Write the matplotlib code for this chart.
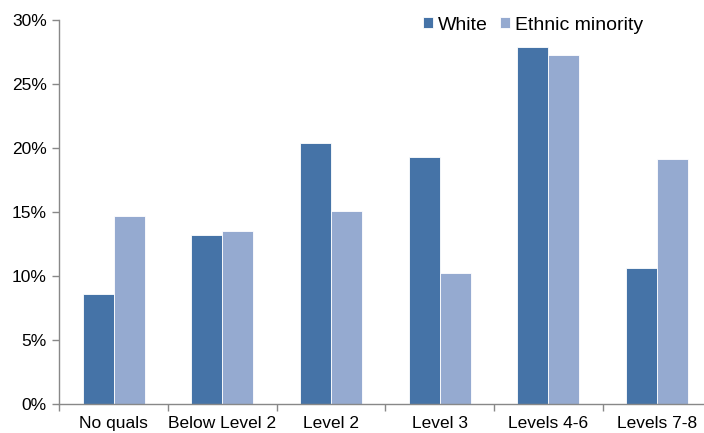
import matplotlib
matplotlib.use("Agg")
import matplotlib.pyplot as plt
import numpy as np
from matplotlib.ticker import FuncFormatter, FixedLocator

categories = ["No quals", "Below Level 2", "Level 2", "Level 3", "Levels 4-6", "Levels 7-8"]
white = [8.6, 13.2, 20.4, 19.3, 27.9, 10.6]
ethnic_minority = [14.7, 13.5, 15.1, 10.2, 27.3, 19.1]
series_names = ["White", "Ethnic minority"]
colors = ["#4573A7", "#95AAD0"]

plt.rcParams["font.family"] = ["Liberation Sans", "DejaVu Sans"]

fig = plt.figure(figsize=(7.04, 4.33), dpi=100)
ax = fig.add_axes([59.3 / 704, 1 - 403.7 / 433, (711.5 - 59.3) / 704, (403.7 - 20) / 433])

x = np.arange(len(categories))
w = 0.285
ax.bar(x - w / 2, white, w, color=colors[0], edgecolor="white", linewidth=0.6, label=series_names[0])
ax.bar(x + w / 2, ethnic_minority, w, color=colors[1], edgecolor="white", linewidth=0.6, label=series_names[1])

ax.set_xlim(-0.5, len(categories) - 0.5)
ax.set_ylim(0, 30)
ax.set_yticks(np.arange(0, 31, 5))
ax.yaxis.set_major_formatter(FuncFormatter(lambda v, p: f"{v:.0f}%"))

ax.set_xticks(x)
ax.set_xticklabels(categories)
ax.xaxis.set_minor_locator(FixedLocator(np.arange(-0.5, len(categories), 1.0)))
ax.tick_params(axis="x", which="major", length=0, pad=9, labelsize=12.5, colors="black")
ax.tick_params(axis="x", which="minor", length=5, color="#888888", width=1)
ax.tick_params(axis="y", length=5, color="#888888", width=1, labelsize=12.5, pad=4)

for s in ["top", "right"]:
    ax.spines[s].set_visible(False)
for s in ["left", "bottom"]:
    ax.spines[s].set_color("#888888")
    ax.spines[s].set_linewidth(1)

ax.legend(loc="center", bbox_to_anchor=(533 / 704, 1 - 25 / 433), bbox_transform=fig.transFigure,
          ncol=2, frameon=False, fontsize=14, handlelength=0.55, handleheight=0.55,
          handletextpad=0.25, columnspacing=0.6, borderpad=0)

fig.savefig("out.png", dpi=100)
